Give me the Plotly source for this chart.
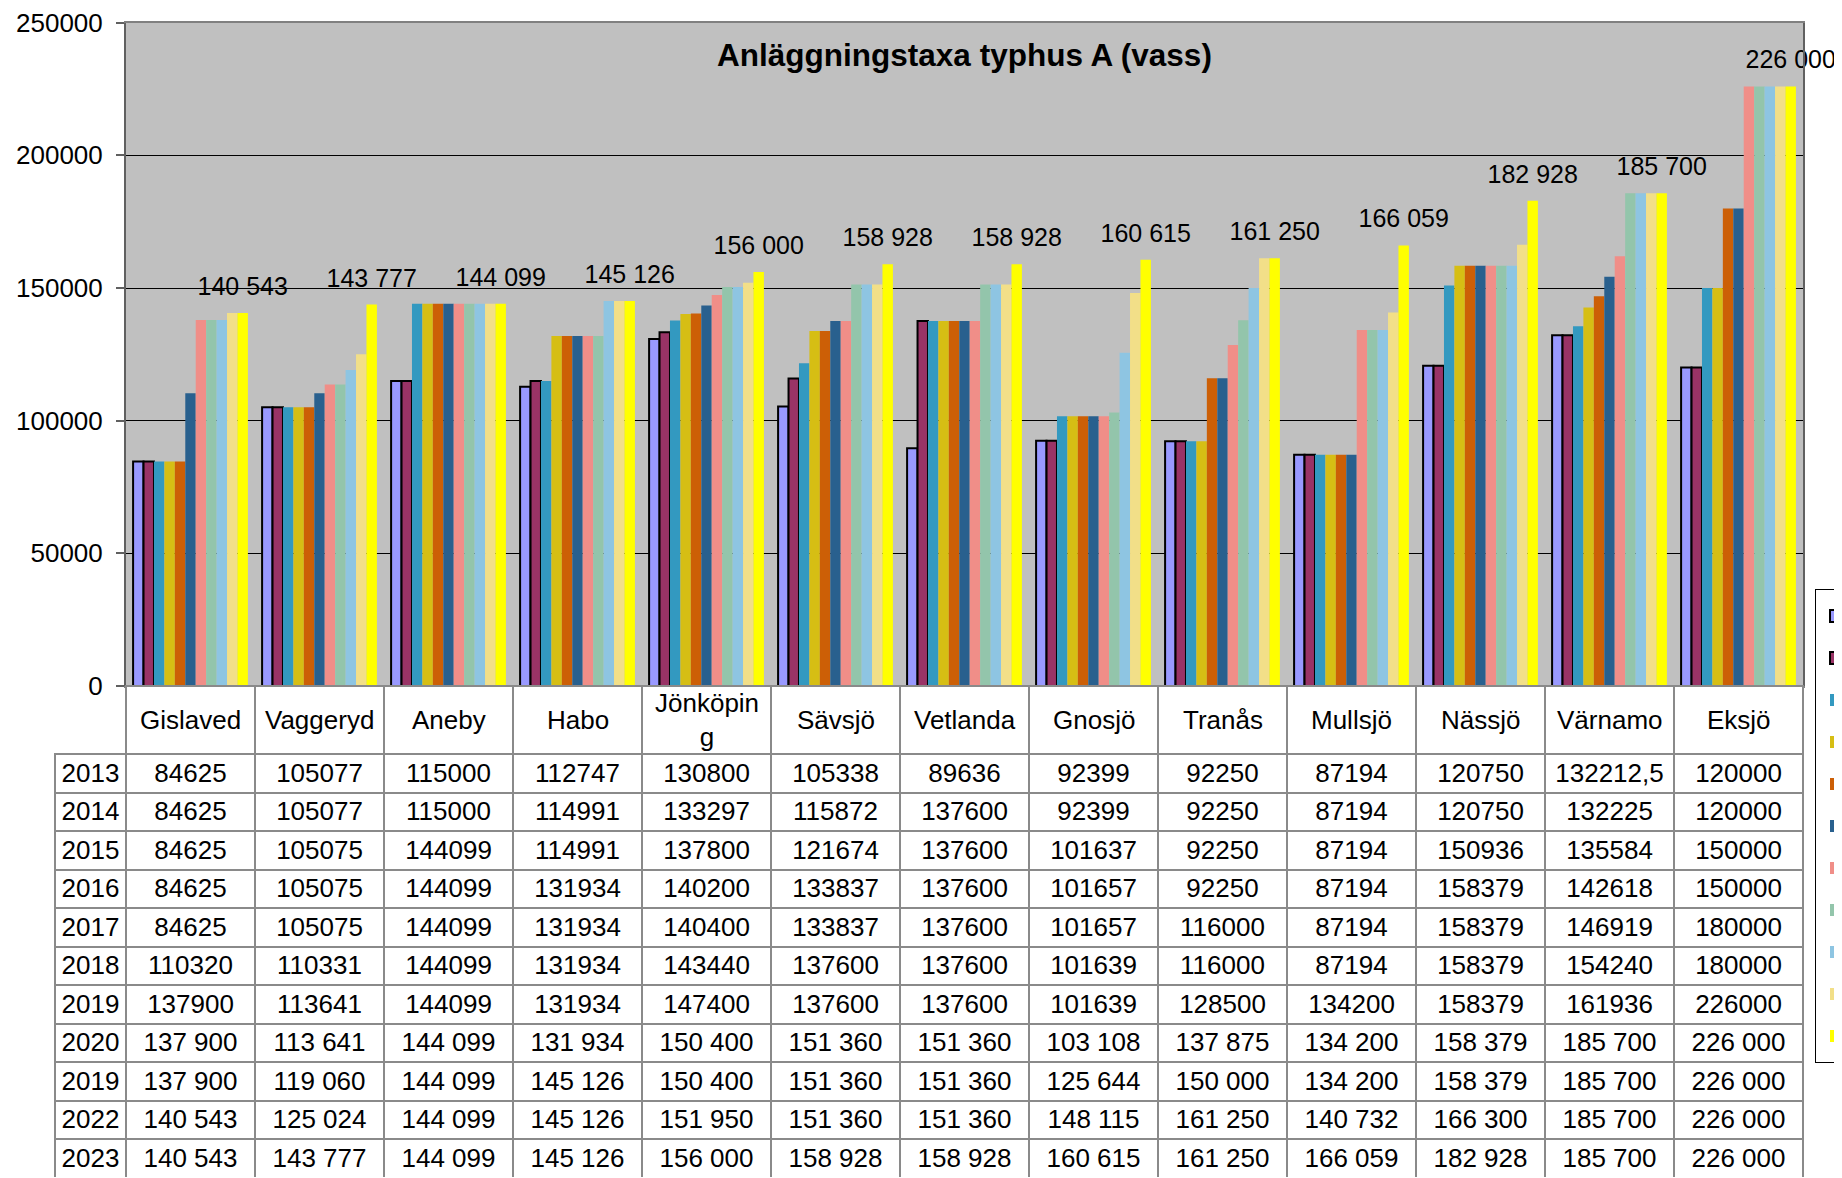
import plotly.graph_objects as go

categories = ["Gislaved", "Vaggeryd", "Aneby", "Habo", "Jönköping", "Sävsjö", "Vetlanda",
              "Gnosjö", "Tranås", "Mullsjö", "Nässjö", "Värnamo", "Eksjö"]
header_labels = ["Gislaved", "Vaggeryd", "Aneby", "Habo", "Jönköpin<br>g", "Sävsjö", "Vetlanda",
                 "Gnosjö", "Tranås", "Mullsjö", "Nässjö", "Värnamo", "Eksjö"]
years = ["2013", "2014", "2015", "2016", "2017", "2018", "2019", "2020", "2019", "2022", "2023"]

v2013 = [84625, 105077, 115000, 112747, 130800, 105338, 89636, 92399, 92250, 87194, 120750, 132212.5, 120000]
v2014 = [84625, 105077, 115000, 114991, 133297, 115872, 137600, 92399, 92250, 87194, 120750, 132225, 120000]
v2015 = [84625, 105075, 144099, 114991, 137800, 121674, 137600, 101637, 92250, 87194, 150936, 135584, 150000]
v2016 = [84625, 105075, 144099, 131934, 140200, 133837, 137600, 101657, 92250, 87194, 158379, 142618, 150000]
v2017 = [84625, 105075, 144099, 131934, 140400, 133837, 137600, 101657, 116000, 87194, 158379, 146919, 180000]
v2018 = [110320, 110331, 144099, 131934, 143440, 137600, 137600, 101639, 116000, 87194, 158379, 154240, 180000]
v2019 = [137900, 113641, 144099, 131934, 147400, 137600, 137600, 101639, 128500, 134200, 158379, 161936, 226000]
v2020 = [137900, 113641, 144099, 131934, 150400, 151360, 151360, 103108, 137875, 134200, 158379, 185700, 226000]
v2021 = [137900, 119060, 144099, 145126, 150400, 151360, 151360, 125644, 150000, 134200, 158379, 185700, 226000]
v2022 = [140543, 125024, 144099, 145126, 151950, 151360, 151360, 148115, 161250, 140732, 166300, 185700, 226000]
v2023 = [140543, 143777, 144099, 145126, 156000, 158928, 158928, 160615, 161250, 166059, 182928, 185700, 226000]

series = [v2013, v2014, v2015, v2016, v2017, v2018, v2019, v2020, v2021, v2022, v2023]
spaced_rows = [False, False, False, False, False, False, False, True, True, True, True]
colors = ["#9999FF", "#993366", "#3399C0", "#D6BE14", "#CC5F06", "#29608E", "#F08E88",
          "#93C5AB", "#8EC5E2", "#F2DF88", "#FFFF00"]
outlined = [True, True, False, False, False, False, False, False, False, False, False]


def fmt(v, spaced):
    if isinstance(v, float) and not v.is_integer():
        return str(v).replace(".", ",")
    if spaced:
        return f"{int(v):,}".replace(",", " ")
    return str(int(v))


# page body has an 8px margin: the figure is laid out in page pixels minus that offset
OFF = 8
W, H = 1842 - OFF, 1178 - OFF
FONT = "Arial, Liberation Sans, sans-serif"

PL, PR, PT, PB = 126 - OFF, 1803 - OFF, 22.7 - OFF, 686 - OFF   # plot area
TL = 55 - OFF                                                  # table left edge
HEADER_H, ROW_H = 68, 38.5


def px_x(x):
    return x / W


def px_y(y):
    return 1 - y / H


fig = go.Figure()
for i, (yr, vals) in enumerate(zip(years, series)):
    last = i == len(series) - 1
    fig.add_trace(go.Bar(
        x=categories, y=vals, name=yr,
        marker=dict(color=colors[i],
                    line=dict(color="black", width=2 if outlined[i] else 0)),
        text=[f"<span style='font-size:25px'>{fmt(v, True)}</span><br>\u00a0" for v in vals] if last else None,
        textposition="outside" if last else None,
        textfont=dict(size=10, color="black", family=FONT),
        constraintext="none",
        cliponaxis=False,
        showlegend=True,
    ))

cell_cols = [years] + [[fmt(series[r][c], spaced_rows[r]) for r in range(len(years))]
                       for c in range(len(categories))]
n = len(categories)

fig.add_trace(go.Table(
    domain=dict(x=[px_x(TL), px_x(PR)], y=[0, px_y(PB)]),
    columnwidth=[71] + [129] * n,
    header=dict(values=[""] * (n + 1), height=HEADER_H,
                fill=dict(color=["rgba(0,0,0,0)"] + ["white"] * n),
                line=dict(color=["rgba(0,0,0,0)"] + ["#8a8a8a"] * n, width=2),
                font=dict(size=26, color="black", family=FONT), align="center"),
    cells=dict(values=cell_cols, height=ROW_H, fill_color="white",
               line=dict(color="#8a8a8a", width=2),
               font=dict(size=26, color="black", family=FONT), align="center"),
))

# category names in the table's header row, centred on each category
for cat, lab in zip(categories, header_labels):
    fig.add_annotation(x=cat, xref="x", y=px_y(PB + HEADER_H / 2), yref="paper",
                       text=lab, showarrow=False, xanchor="center", yanchor="middle",
                       align="center", font=dict(size=26, color="black", family=FONT))

fig.update_layout(
    width=W, height=H,
    margin=dict(l=0, r=0, t=0, b=0, autoexpand=False),
    paper_bgcolor="white", plot_bgcolor="#C0C0C0",
    barmode="group", bargap=0.11, bargroupgap=0,
    font=dict(family=FONT, color="black"),
    title=dict(text="<b>Anläggningstaxa typhus A (vass)</b>", x=px_x((PL + PR) / 2),
               y=px_y(55 - OFF), xanchor="center", yanchor="middle",
               xref="paper", yref="paper",
               font=dict(size=31.5, color="black", family=FONT)),
    xaxis=dict(domain=[px_x(PL), px_x(PR)], type="category", showticklabels=False,
               showline=True, linecolor="#808080", linewidth=2, mirror=True,
               ticks="", showgrid=False),
    yaxis=dict(domain=[px_y(PB), px_y(PT)], range=[0, 250000], dtick=50000,
               tickformat="d", showgrid=True, gridcolor="black", gridwidth=1,
               ticks="outside", ticklen=8, tickcolor="#606060", tickwidth=2,
               ticklabelstandoff=8, ticklabeloverflow="allow",
               showline=True, linecolor="#606060", linewidth=2, mirror=True,
               tickfont=dict(size=26, color="black", family=FONT), zeroline=False),
    legend=dict(x=px_x(1815 - OFF), y=px_y(589 - OFF), xanchor="left", yanchor="top",
                bordercolor="black", borderwidth=1, bgcolor="white",
                font=dict(size=30, color="black", family=FONT), traceorder="normal"),
)

fig.write_html("out.html")
